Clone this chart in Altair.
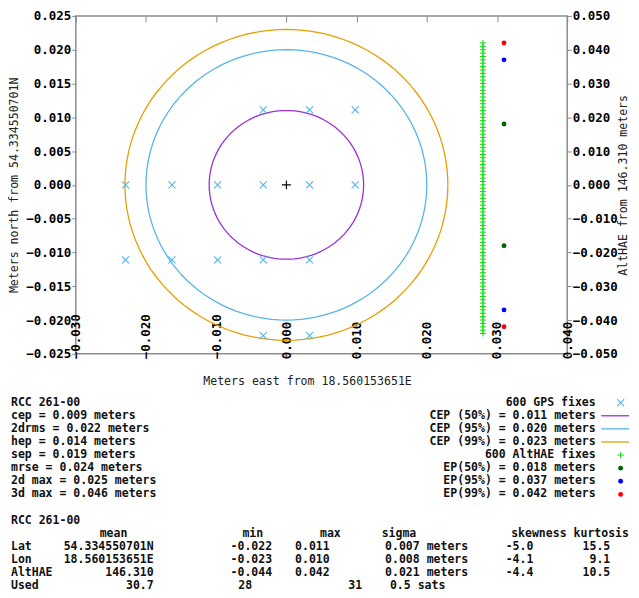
import altair as alt
import numpy as np
import pandas as pd

# ---------------- data ----------------
ref_lat = "54.334550701N"
ref_lon = "18.560153651E"
ref_alt = "146.310"
device = "RCC 261-00"

gps_east = [-0.0033, 0.0033, 0.0098,
            -0.0229, -0.0163, -0.0098, -0.0033, 0.0033, 0.0098,
            -0.0229, -0.0163, -0.0098, -0.0033, 0.0033,
            -0.0033, 0.0033]
gps_north = [0.0111, 0.0111, 0.0111,
             0.0, 0.0, 0.0, 0.0, 0.0, 0.0,
             -0.0111, -0.0111, -0.0111, -0.0111, -0.0111,
             -0.0223, -0.0223]
mean_east = [0.0]
mean_north = [0.0]

cep_labels = ["CEP (50%)", "CEP (95%)", "CEP (99%)"]
cep_radii = [0.011, 0.020, 0.023]

althae_east = 0.028
althae_values = [-0.044, -0.043, -0.042, -0.041, -0.040, -0.039, -0.038, -0.037,
                 -0.036, -0.035, -0.034, -0.033, -0.032, -0.031, -0.030, -0.029,
                 -0.028, -0.027, -0.026, -0.025, -0.024, -0.023, -0.022, -0.021,
                 -0.020, -0.019, -0.018, -0.017, -0.016, -0.015, -0.014, -0.013,
                 -0.012, -0.011, -0.010, -0.009, -0.008, -0.007, -0.006, -0.005,
                 -0.004, -0.003, -0.002, -0.001, 0.000, 0.001, 0.002, 0.003,
                 0.004, 0.005, 0.006, 0.007, 0.008, 0.009, 0.010, 0.011,
                 0.012, 0.013, 0.014, 0.015, 0.016, 0.017, 0.018, 0.019,
                 0.020, 0.021, 0.022, 0.023, 0.024, 0.025, 0.026, 0.027,
                 0.028, 0.029, 0.030, 0.031, 0.032, 0.033, 0.034, 0.035,
                 0.036, 0.037, 0.038, 0.039, 0.040, 0.041, 0.042]

ep_east = 0.031
ep_labels = ["EP(50%)", "EP(95%)", "EP(99%)"]
ep_values = [0.018, 0.037, 0.042]

x_ticks = [-0.03, -0.02, -0.01, 0.0, 0.01, 0.02, 0.03, 0.04]
y_ticks = [-0.025, -0.02, -0.015, -0.01, -0.005, 0.0, 0.005, 0.01, 0.015, 0.02, 0.025]
y2_ticks = [-0.05, -0.04, -0.03, -0.02, -0.01, 0.0, 0.01, 0.02, 0.03, 0.04, 0.05]

stat_names = ["cep", "2drms", "hep", "sep", "mrse", "2d max", "3d max"]
stat_values = ["0.009", "0.022", "0.014", "0.019", "0.024", "0.025", "0.046"]
n_fixes = 600

table_header = ["mean", "min", "max", "sigma", "skewness", "kurtosis"]
table_names = ["Lat", "Lon", "AltHAE", "Used"]
table_mean = [ref_lat, ref_lon, ref_alt, "30.7"]
table_min = ["-0.022", "-0.023", "-0.044", "28"]
table_max = ["0.011", "0.010", "0.042", "31"]
table_sigma = ["0.007", "0.008", "0.021", "0.5"]
table_units = ["meters", "meters", "meters", "sats"]
table_skew = ["-5.0", "-4.1", "-4.4", ""]
table_kurt = ["15.5", "9.1", "10.5", ""]

# ---------------- styles / layout ----------------
FONT = "DejaVu Sans Mono"
cep_colors = ["#9b30d9", "#56b4e9", "#e69f00"]
ep_colors = ["#006400", "#0000ff", "#ff0000"]
gps_color = "#56b4e9"
alt_color = "#00e000"
XPATH = "M-1,-1L1,1M1,-1L-1,1"
PLUS = "M-1,0L1,0M0,-1L0,1"
CHAR_W = 6.95          # width of one text column (px)
TEXT_LEFT = -65        # left edge of the text block, relative to the plot origin
PLOT_W, PLOT_H = 493, 339

# ---------------- frames ----------------
circ_rows = []
for lab, r in zip(cep_labels, cep_radii):
    for k in range(0, 361, 3):
        t = np.radians(k)
        circ_rows.append({"level": lab, "k": k, "east": r * np.cos(t), "north": r * np.sin(t)})
circle_df = pd.DataFrame(circ_rows)
gps_df = pd.DataFrame({"east": gps_east, "north": gps_north})
mean_df = pd.DataFrame({"east": mean_east, "north": mean_north})
alt_df = pd.DataFrame({"east": [althae_east] * len(althae_values), "alt": althae_values})
ep_rows = []
for lab, v in zip(ep_labels, ep_values):
    ep_rows.append({"level": lab, "east": ep_east, "alt": v})
    ep_rows.append({"level": lab, "east": ep_east, "alt": -v})
ep_df = pd.DataFrame(ep_rows)

xs = alt.Scale(domain=[-0.03, 0.04], nice=False, zero=False)
ys = alt.Scale(domain=[-0.025, 0.025], nice=False, zero=False)
y2s = alt.Scale(domain=[-0.05, 0.05], nice=False, zero=False)

lab = dict(labelFont=FONT, labelFontWeight="bold", labelFontSize=12.5, labelColor="#000",
           titleFont=FONT, titleFontWeight="normal", titleFontSize=11.6, titleColor="#222",
           domain=False, grid=False, tickColor="#888")

x_bottom = alt.Axis(orient="bottom", values=x_ticks, format=".3f", ticks=False,
                    labelAngle=270, labelAlign="left", labelBaseline="middle",
                    labelPadding=5, labelFlush=False, labelOverlap=False,
                    title=f"Meters east from {ref_lon}", titleX=232, titleY=28,
                    titleAlign="center", titleBaseline="middle", **lab)
# mirror ticks hanging down from the top frame
x_top = alt.Axis(orient="bottom", values=x_ticks, labels=False, tickSize=6, offset=-PLOT_H,
                 title=None, domain=False, grid=False, tickColor="#888")
y_left = alt.Axis(orient="left", values=y_ticks, format=".3f", tickSize=4, labelPadding=1,
                  labelOverlap=False,
                  title=f"Meters north from {ref_lat}", titleX=-61, titleY=169.5,
                  titleAngle=270, titleAlign="center", titleBaseline="middle", **lab)
y_right = alt.Axis(orient="right", values=y2_ticks, format=".3f", tickSize=4, labelPadding=1,
                   labelOverlap=False,
                   title=f"AltHAE from {ref_alt} meters", titleX=56, titleY=169.5,
                   titleAngle=270, titleAlign="center", titleBaseline="middle", **lab)

circles = alt.Chart(circle_df).mark_line(strokeWidth=1.3).encode(
    x=alt.X("east:Q", scale=xs, axis=x_bottom),
    y=alt.Y("north:Q", scale=ys, axis=y_left),
    color=alt.Color("level:N", scale=alt.Scale(domain=cep_labels, range=cep_colors), legend=None),
    order=alt.Order("k:Q"),
)
gps = alt.Chart(gps_df).mark_point(shape=XPATH, filled=False, size=50, strokeWidth=1.1,
                                   color=gps_color, opacity=1).encode(
    x=alt.X("east:Q", scale=xs, axis=x_top),
    y=alt.Y("north:Q", scale=ys, axis=None),
)
mean_pt = alt.Chart(mean_df).mark_point(shape=PLUS, filled=False, size=81, strokeWidth=1.1,
                                        color="#000", opacity=1).encode(
    x=alt.X("east:Q", scale=xs, axis=None),
    y=alt.Y("north:Q", scale=ys, axis=None),
)
alth = alt.Chart(alt_df).mark_point(shape=PLUS, filled=False, size=36, strokeWidth=1,
                                    color=alt_color, opacity=1).encode(
    x=alt.X("east:Q", scale=xs, axis=None),
    y=alt.Y("alt:Q", scale=y2s, axis=y_right),
)
ep = alt.Chart(ep_df).mark_circle(size=24, opacity=1).encode(
    x=alt.X("east:Q", scale=xs, axis=None),
    y=alt.Y("alt:Q", scale=y2s, axis=None),
    color=alt.Color("level:N", scale=alt.Scale(domain=ep_labels, range=ep_colors), legend=None),
)

plot = alt.layer(circles, gps, mean_pt, alth, ep).resolve_scale(
    y="independent", color="independent"
).resolve_axis(x="independent", y="independent").properties(
    width=PLOT_W, height=PLOT_H,
    view=alt.ViewBackground(stroke="#8c8c8c", strokeWidth=1.5),
)

# ---------------- text block (rows x character columns) ----------------
right_lines = ([f"{n_fixes} GPS fixes"]
               + [f"{l} = {r:.3f} meters" for l, r in zip(cep_labels, cep_radii)]
               + [f"{n_fixes} AltHAE fixes"]
               + [f"{l} = {v:.3f} meters" for l, v in zip(ep_labels, ep_values)])
left_lines = [device] + [f"{n} = {v} meters" for n, v in zip(stat_names, stat_values)]

left_cells, right_cells = [], []
for i in range(8):
    left_cells.append({"row": i, "col": 0, "text": left_lines[i]})
    right_cells.append({"row": i, "col": 84.4, "text": right_lines[i]})
left_cells.append({"row": 9, "col": 0, "text": device})
for c, h in zip([12.8, 33.4, 44.6, 53.5, 72.2], table_header[:5]):
    left_cells.append({"row": 10, "col": c, "text": h})
right_cells.append({"row": 10, "col": 89.2, "text": table_header[5]})
min_cols = [31.7, 31.7, 31.7, 32.8]
max_cols = [41.0, 41.0, 41.0, 48.7]
sig_cols = [54.0, 54.0, 54.0, 54.7]
for j, name in enumerate(table_names):
    r = 11 + j
    left_cells.append({"row": r, "col": 0, "text": name})
    right_cells.append({"row": r, "col": 20.6, "text": table_mean[j]})
    left_cells.append({"row": r, "col": min_cols[j], "text": table_min[j]})
    left_cells.append({"row": r, "col": max_cols[j], "text": table_max[j]})
    left_cells.append({"row": r, "col": sig_cols[j], "text": f"{table_sigma[j]} {table_units[j]}"})
    if table_skew[j]:
        left_cells.append({"row": r, "col": 71.4, "text": table_skew[j]})
    if table_kurt[j]:
        right_cells.append({"row": r, "col": 86.5, "text": table_kurt[j]})
left_df = pd.DataFrame(left_cells)
right_df = pd.DataFrame(right_cells)

# legend glyphs, drawn like the plot marks
key_line_df = pd.DataFrame({"row": [1, 2, 3], "level": cep_labels,
                            "c0": [85.2] * 3, "c1": [89.2] * 3})
key_x_df = pd.DataFrame({"row": [0], "col": [88.0]})
key_plus_df = pd.DataFrame({"row": [4], "col": [88.0]})
key_dot_df = pd.DataFrame({"row": [5, 6, 7], "col": [88.0] * 3, "level": ep_labels})

cols_scale = alt.Scale(domain=[0, 90], range=[TEXT_LEFT, TEXT_LEFT + 90 * CHAR_W],
                       nice=False, zero=False)
rows_scale = alt.Scale(domain=[0, 14], reverse=True, nice=False, zero=False)
Xc = lambda f: alt.X(f, scale=cols_scale, axis=None)
Yr = alt.Y("row:Q", scale=rows_scale, axis=None)
txt = dict(baseline="middle", font=FONT, fontWeight="bold", fontSize=11.55, color="#111")

t_left = alt.Chart(left_df).mark_text(align="left", **txt).encode(
    x=Xc("col:Q"), y=Yr, text="text:N")
t_right = alt.Chart(right_df).mark_text(align="right", **txt).encode(
    x=Xc("col:Q"), y=Yr, text="text:N")
k_line = alt.Chart(key_line_df).mark_rule(strokeWidth=1.3).encode(
    x=Xc("c0:Q"), x2="c1:Q", y=Yr,
    color=alt.Color("level:N", scale=alt.Scale(domain=cep_labels, range=cep_colors), legend=None))
k_x = alt.Chart(key_x_df).mark_point(shape=XPATH, filled=False, size=50, strokeWidth=1.1,
                                     color=gps_color, opacity=1).encode(x=Xc("col:Q"), y=Yr)
k_plus = alt.Chart(key_plus_df).mark_point(shape=PLUS, filled=False, size=42, strokeWidth=1,
                                           color=alt_color, opacity=1).encode(x=Xc("col:Q"), y=Yr)
k_dot = alt.Chart(key_dot_df).mark_circle(size=24, opacity=1).encode(
    x=Xc("col:Q"), y=Yr,
    color=alt.Color("level:N", scale=alt.Scale(domain=ep_labels, range=ep_colors), legend=None))

text_block = alt.layer(t_left, t_right, k_line, k_x, k_plus, k_dot).resolve_scale(
    color="independent").properties(width=400, height=184)

chart = alt.concat(plot, text_block, columns=1, spacing=7, bounds="full").properties(
    padding=0
).configure_view(stroke="transparent")

chart.save("out.html", embed_options={"renderer": "svg", "actions": False})
